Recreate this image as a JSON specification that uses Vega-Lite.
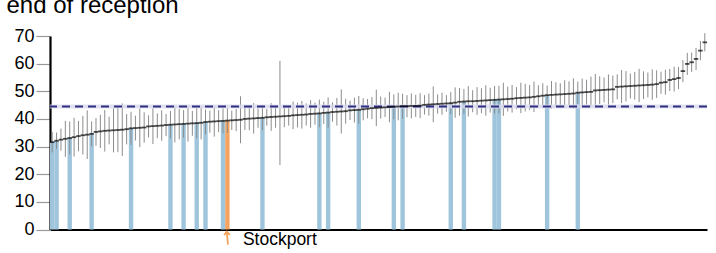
{
  "$schema": "https://vega.github.io/schema/vega-lite/v6.json",
  "autosize": {"type": "none"},
  "width": 657,
  "height": 193.5,
  "padding": {"left": 50, "top": 36, "right": 9, "bottom": 23.5},
  "background": "white",
  "config": {
    "view": {"stroke": null},
    "axisY": {"tickCount": 8, "labelOverlap": false, "grid": false, "domainColor": "black", "domainWidth": 2.2,
              "tickColor": "#999999", "tickSize": 14, "tickWidth": 1.2, "labelPadding": 2,
              "labelFont": "Liberation Sans", "labelFontSize": 18, "labelColor": "black"},
    "axisX": {"labels": false, "ticks": false, "grid": false, "domainColor": "black", "domainWidth": 2.2}
  },
  "datasets": {
    "la": [
      {"i":0,"v":31.6,"lo":27.9,"hi":35.3,"c":"b"},
      {"i":1,"v":32.1,"lo":29.1,"hi":35.1,"c":"b"},
      {"i":2,"v":32.5,"lo":28.5,"hi":36.5,"c":""},
      {"i":3,"v":32.8,"lo":26.3,"hi":39.3,"c":""},
      {"i":4,"v":33.1,"lo":27.1,"hi":39.1,"c":"b"},
      {"i":5,"v":33.4,"lo":26.4,"hi":40.4,"c":""},
      {"i":6,"v":33.8,"lo":28.3,"hi":39.3,"c":""},
      {"i":7,"v":34.1,"lo":27.1,"hi":41.1,"c":""},
      {"i":8,"v":34.3,"lo":25.5,"hi":43.1,"c":""},
      {"i":9,"v":34.6,"lo":30.1,"hi":39.1,"c":"b"},
      {"i":10,"v":35.3,"lo":30.3,"hi":40.3,"c":""},
      {"i":11,"v":35.5,"lo":29.5,"hi":41.5,"c":""},
      {"i":12,"v":35.7,"lo":28.2,"hi":43.2,"c":""},
      {"i":13,"v":35.8,"lo":30.8,"hi":40.8,"c":""},
      {"i":14,"v":35.9,"lo":27.9,"hi":43.9,"c":""},
      {"i":15,"v":36.0,"lo":28.0,"hi":44.0,"c":""},
      {"i":16,"v":36.1,"lo":26.6,"hi":45.6,"c":""},
      {"i":17,"v":36.3,"lo":30.8,"hi":41.8,"c":""},
      {"i":18,"v":36.6,"lo":30.6,"hi":42.6,"c":"b"},
      {"i":19,"v":36.7,"lo":32.2,"hi":41.2,"c":""},
      {"i":20,"v":36.8,"lo":29.8,"hi":43.8,"c":""},
      {"i":21,"v":36.9,"lo":31.4,"hi":42.4,"c":""},
      {"i":22,"v":37.3,"lo":33.3,"hi":41.3,"c":""},
      {"i":23,"v":37.4,"lo":30.9,"hi":43.9,"c":""},
      {"i":24,"v":37.5,"lo":33.0,"hi":42.0,"c":""},
      {"i":25,"v":37.6,"lo":32.1,"hi":43.1,"c":""},
      {"i":26,"v":37.8,"lo":33.8,"hi":41.8,"c":""},
      {"i":27,"v":37.9,"lo":32.9,"hi":42.9,"c":"b"},
      {"i":28,"v":38.0,"lo":31.5,"hi":44.5,"c":""},
      {"i":29,"v":38.1,"lo":32.6,"hi":43.6,"c":""},
      {"i":30,"v":38.2,"lo":33.2,"hi":43.2,"c":"b"},
      {"i":31,"v":38.3,"lo":31.8,"hi":44.8,"c":""},
      {"i":32,"v":38.4,"lo":33.9,"hi":42.9,"c":""},
      {"i":33,"v":38.5,"lo":33.0,"hi":44.0,"c":"b"},
      {"i":34,"v":38.6,"lo":32.6,"hi":44.6,"c":""},
      {"i":35,"v":38.9,"lo":34.4,"hi":43.4,"c":"b"},
      {"i":36,"v":39.0,"lo":35.0,"hi":43.0,"c":""},
      {"i":37,"v":39.1,"lo":33.6,"hi":44.6,"c":""},
      {"i":38,"v":39.2,"lo":35.2,"hi":43.2,"c":""},
      {"i":39,"v":39.3,"lo":34.8,"hi":43.8,"c":"b"},
      {"i":40,"v":39.4,"lo":34.9,"hi":43.9,"c":"o"},
      {"i":41,"v":39.5,"lo":36.0,"hi":43.0,"c":""},
      {"i":42,"v":39.6,"lo":35.6,"hi":43.6,"c":""},
      {"i":43,"v":39.7,"lo":31.2,"hi":48.2,"c":""},
      {"i":44,"v":40.0,"lo":36.0,"hi":44.0,"c":""},
      {"i":45,"v":40.1,"lo":35.9,"hi":44.3,"c":""},
      {"i":46,"v":40.2,"lo":34.7,"hi":45.7,"c":""},
      {"i":47,"v":40.3,"lo":36.8,"hi":43.8,"c":""},
      {"i":48,"v":40.4,"lo":35.9,"hi":44.9,"c":"b"},
      {"i":49,"v":40.6,"lo":37.6,"hi":43.6,"c":""},
      {"i":50,"v":40.7,"lo":35.7,"hi":45.7,"c":""},
      {"i":51,"v":40.8,"lo":36.8,"hi":44.8,"c":""},
      {"i":52,"v":40.9,"lo":23.3,"hi":61.0,"c":""},
      {"i":53,"v":41.0,"lo":37.0,"hi":45.0,"c":""},
      {"i":54,"v":41.1,"lo":37.6,"hi":44.6,"c":""},
      {"i":55,"v":41.3,"lo":36.3,"hi":46.3,"c":""},
      {"i":56,"v":41.4,"lo":36.9,"hi":45.9,"c":""},
      {"i":57,"v":41.5,"lo":36.5,"hi":46.5,"c":""},
      {"i":58,"v":41.6,"lo":37.6,"hi":45.6,"c":""},
      {"i":59,"v":41.8,"lo":36.8,"hi":46.8,"c":""},
      {"i":60,"v":41.9,"lo":37.9,"hi":45.9,"c":""},
      {"i":61,"v":42.0,"lo":37.0,"hi":47.0,"c":"b"},
      {"i":62,"v":42.2,"lo":38.2,"hi":46.2,"c":""},
      {"i":63,"v":42.3,"lo":36.8,"hi":47.8,"c":"b"},
      {"i":64,"v":42.5,"lo":39.0,"hi":46.0,"c":""},
      {"i":65,"v":42.6,"lo":37.6,"hi":47.6,"c":""},
      {"i":66,"v":42.7,"lo":34.7,"hi":50.7,"c":""},
      {"i":67,"v":42.8,"lo":38.3,"hi":47.3,"c":""},
      {"i":68,"v":43.1,"lo":39.6,"hi":46.6,"c":""},
      {"i":69,"v":43.2,"lo":38.7,"hi":47.7,"c":""},
      {"i":70,"v":43.3,"lo":38.3,"hi":48.3,"c":"b"},
      {"i":71,"v":43.5,"lo":39.5,"hi":47.5,"c":""},
      {"i":72,"v":43.7,"lo":40.2,"hi":47.2,"c":""},
      {"i":73,"v":43.9,"lo":39.9,"hi":47.9,"c":""},
      {"i":74,"v":44.0,"lo":37.4,"hi":50.6,"c":""},
      {"i":75,"v":44.1,"lo":40.1,"hi":48.1,"c":""},
      {"i":76,"v":44.2,"lo":40.7,"hi":47.7,"c":""},
      {"i":77,"v":44.3,"lo":38.8,"hi":49.8,"c":""},
      {"i":78,"v":44.4,"lo":39.9,"hi":48.9,"c":"b"},
      {"i":79,"v":44.5,"lo":39.5,"hi":49.5,"c":""},
      {"i":80,"v":44.6,"lo":40.1,"hi":49.1,"c":"b"},
      {"i":81,"v":44.6,"lo":40.6,"hi":48.6,"c":""},
      {"i":82,"v":44.7,"lo":40.2,"hi":49.2,"c":""},
      {"i":83,"v":44.7,"lo":40.7,"hi":48.7,"c":""},
      {"i":84,"v":44.8,"lo":40.3,"hi":49.3,"c":""},
      {"i":85,"v":45.1,"lo":41.6,"hi":48.6,"c":""},
      {"i":86,"v":45.2,"lo":41.2,"hi":49.2,"c":""},
      {"i":87,"v":45.3,"lo":38.8,"hi":51.8,"c":""},
      {"i":88,"v":45.4,"lo":41.9,"hi":48.9,"c":""},
      {"i":89,"v":45.5,"lo":41.5,"hi":49.5,"c":""},
      {"i":90,"v":45.6,"lo":42.6,"hi":48.6,"c":""},
      {"i":91,"v":45.7,"lo":41.7,"hi":49.7,"c":"b"},
      {"i":92,"v":45.9,"lo":40.4,"hi":51.4,"c":""},
      {"i":93,"v":46.2,"lo":41.2,"hi":51.2,"c":""},
      {"i":94,"v":46.3,"lo":41.8,"hi":50.8,"c":"b"},
      {"i":95,"v":46.4,"lo":40.9,"hi":51.9,"c":""},
      {"i":96,"v":46.4,"lo":42.4,"hi":50.4,"c":""},
      {"i":97,"v":46.5,"lo":41.5,"hi":51.5,"c":""},
      {"i":98,"v":46.6,"lo":42.1,"hi":51.1,"c":""},
      {"i":99,"v":46.7,"lo":41.2,"hi":52.2,"c":""},
      {"i":100,"v":46.8,"lo":42.3,"hi":51.3,"c":""},
      {"i":101,"v":46.9,"lo":41.9,"hi":51.9,"c":"b"},
      {"i":102,"v":47.0,"lo":42.0,"hi":52.0,"c":"b"},
      {"i":103,"v":47.1,"lo":41.1,"hi":53.1,"c":""},
      {"i":104,"v":47.2,"lo":42.7,"hi":51.7,"c":""},
      {"i":105,"v":47.3,"lo":42.3,"hi":52.3,"c":""},
      {"i":106,"v":47.5,"lo":43.5,"hi":51.5,"c":""},
      {"i":107,"v":47.6,"lo":42.1,"hi":53.1,"c":""},
      {"i":108,"v":47.7,"lo":42.7,"hi":52.7,"c":""},
      {"i":109,"v":47.8,"lo":43.3,"hi":52.3,"c":""},
      {"i":110,"v":48.0,"lo":42.5,"hi":53.5,"c":""},
      {"i":111,"v":48.2,"lo":44.2,"hi":52.2,"c":""},
      {"i":112,"v":48.4,"lo":43.9,"hi":52.9,"c":""},
      {"i":113,"v":48.6,"lo":45.1,"hi":52.1,"c":"b"},
      {"i":114,"v":48.7,"lo":43.7,"hi":53.7,"c":""},
      {"i":115,"v":48.8,"lo":44.3,"hi":53.3,"c":""},
      {"i":116,"v":48.9,"lo":44.9,"hi":52.9,"c":""},
      {"i":117,"v":49.0,"lo":44.0,"hi":54.0,"c":""},
      {"i":118,"v":49.1,"lo":44.6,"hi":53.6,"c":""},
      {"i":119,"v":49.2,"lo":43.7,"hi":54.7,"c":""},
      {"i":120,"v":49.5,"lo":45.5,"hi":53.5,"c":"b"},
      {"i":121,"v":49.6,"lo":44.6,"hi":54.6,"c":""},
      {"i":122,"v":49.7,"lo":45.2,"hi":54.2,"c":""},
      {"i":123,"v":49.8,"lo":44.3,"hi":55.3,"c":""},
      {"i":124,"v":50.3,"lo":44.3,"hi":56.3,"c":""},
      {"i":125,"v":50.4,"lo":45.4,"hi":55.4,"c":""},
      {"i":126,"v":50.5,"lo":46.0,"hi":55.0,"c":""},
      {"i":127,"v":50.6,"lo":45.1,"hi":56.1,"c":""},
      {"i":128,"v":50.7,"lo":45.7,"hi":55.7,"c":""},
      {"i":129,"v":51.6,"lo":47.1,"hi":56.1,"c":""},
      {"i":130,"v":51.7,"lo":45.7,"hi":57.7,"c":""},
      {"i":131,"v":51.8,"lo":46.3,"hi":57.3,"c":""},
      {"i":132,"v":51.9,"lo":47.4,"hi":56.4,"c":""},
      {"i":133,"v":52.0,"lo":47.0,"hi":57.0,"c":""},
      {"i":134,"v":52.1,"lo":46.1,"hi":58.1,"c":""},
      {"i":135,"v":52.2,"lo":47.2,"hi":57.2,"c":""},
      {"i":136,"v":52.3,"lo":47.8,"hi":56.8,"c":""},
      {"i":137,"v":52.4,"lo":46.9,"hi":57.9,"c":""},
      {"i":138,"v":52.6,"lo":47.6,"hi":57.6,"c":""},
      {"i":139,"v":53.1,"lo":49.1,"hi":57.1,"c":""},
      {"i":140,"v":53.3,"lo":48.8,"hi":57.8,"c":""},
      {"i":141,"v":54.1,"lo":50.1,"hi":58.1,"c":""},
      {"i":142,"v":54.4,"lo":49.9,"hi":58.9,"c":""},
      {"i":143,"v":54.8,"lo":50.8,"hi":58.8,"c":""},
      {"i":144,"v":57.3,"lo":53.3,"hi":61.3,"c":""},
      {"i":145,"v":59.9,"lo":55.9,"hi":63.9,"c":""},
      {"i":146,"v":60.5,"lo":57.0,"hi":64.0,"c":""},
      {"i":147,"v":61.7,"lo":57.7,"hi":65.7,"c":""},
      {"i":148,"v":64.7,"lo":61.2,"hi":68.2,"c":""},
      {"i":149,"v":67.7,"lo":64.4,"hi":71.0,"c":""}
    ]
  },
  "layer": [
    {
      "data": {"name": "la"},
      "transform": [{"filter": "datum.c != ''"}],
      "mark": {"type": "bar", "strokeWidth": 0},
      "encoding": {
        "x": {"field": "i", "type": "ordinal", "scale": {"paddingInner": 0, "paddingOuter": 0}, "title": null},
        "y": {"field": "v", "type": "quantitative", "scale": {"domain": [0, 70], "nice": false}, "title": null},
        "color": {"field": "c", "type": "nominal", "scale": {"domain": ["b", "o"], "range": ["#9ec5dc", "#f4a460"]}, "legend": null}
      }
    },
    {
      "data": {"name": "la"},
      "mark": {"type": "rule", "color": "#8c8c8c", "strokeWidth": 1},
      "encoding": {
        "x": {"field": "i", "type": "ordinal", "title": null},
        "y": {"field": "lo", "type": "quantitative", "title": null},
        "y2": {"field": "hi"}
      }
    },
    {
      "data": {"values": [{"m": 44.5}]},
      "mark": {"type": "rule", "color": "#d8d8ee", "strokeWidth": 4, "opacity": 0.8},
      "encoding": {"y": {"field": "m", "type": "quantitative", "title": null}}
    },
    {
      "data": {"values": [{"m": 44.5}]},
      "mark": {"type": "rule", "color": "#2e2e80", "strokeWidth": 2, "strokeDash": [8, 5]},
      "encoding": {"y": {"field": "m", "type": "quantitative", "title": null}}
    },
    {
      "data": {"name": "la"},
      "mark": {"type": "tick", "color": "black", "thickness": 1.8, "size": 4.5},
      "encoding": {
        "x": {"field": "i", "type": "ordinal", "title": null},
        "y": {"field": "v", "type": "quantitative", "title": null}
      }
    },
    {
      "data": {"values": [{"i": 40, "y": -3.1}]},
      "mark": {"type": "point", "shape": "M-0.09,-1L0.09,1M-0.5,-0.45L-0.09,-1L0.38,-0.5", "filled": false, "stroke": "#f4a460", "strokeWidth": 1.8, "size": 169, "dx": 1.5, "opacity": 1},
      "encoding": {
        "x": {"field": "i", "type": "ordinal", "title": null},
        "y": {"field": "y", "type": "quantitative", "title": null}
      }
    },
    {
      "data": {"values": [{"i": 40, "y": -5.6, "t": "Stockport"}]},
      "mark": {"type": "text", "color": "black", "font": "Liberation Sans", "fontSize": 17.5, "baseline": "alphabetic", "align": "left", "dx": 15.5},
      "encoding": {
        "x": {"field": "i", "type": "ordinal", "title": null},
        "y": {"field": "y", "type": "quantitative", "title": null},
        "text": {"field": "t"}
      }
    },
    {
      "data": {"values": [{"i": 0, "y": 78.3, "t": "end of reception"}]},
      "mark": {"type": "text", "color": "black", "font": "Liberation Sans", "fontSize": 24, "baseline": "alphabetic", "align": "left", "dx": -45.7},
      "encoding": {
        "x": {"field": "i", "type": "ordinal", "title": null},
        "y": {"field": "y", "type": "quantitative", "title": null},
        "text": {"field": "t"}
      }
    }
  ]
}
